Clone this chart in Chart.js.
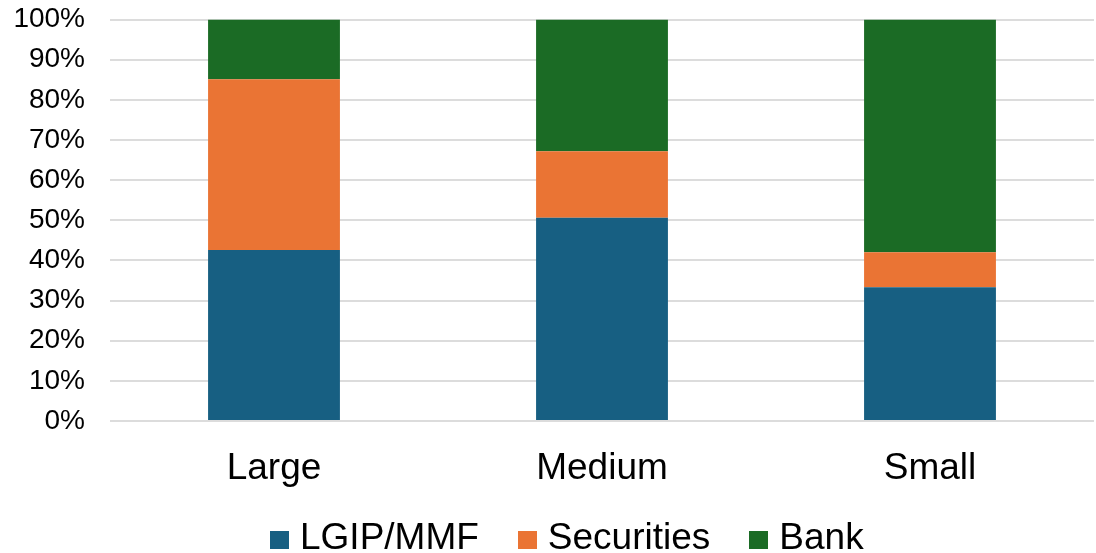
<!DOCTYPE html>
<html>
<head>
<meta charset="utf-8">
<script src="https://cdn.jsdelivr.net/npm/chart.js@4.4.1/dist/chart.umd.min.js"></script>
<style>
  html, body { margin: 0; padding: 0; background: #ffffff; }
  #wrap { position: relative; width: 1096px; height: 553px; }
  #legend {
    position: absolute; left: 270px; top: 518px;
    display: flex; align-items: flex-start;
    font-family: "Liberation Sans", Arial, sans-serif; font-size: 37px; line-height: 37px; color: #000;
  }
  .item { display: flex; align-items: flex-start; margin-right: 39px; white-space: nowrap; }
  .box { width: 19px; height: 18px; margin-top: 13px; margin-right: 11px; }
</style>
</head>
<body>
<div id="wrap">
  <canvas id="chart" width="1096" height="553"></canvas>
  <div id="legend"></div>
</div>
<script>
// Share of holdings by entity size (percent of total)
const categories = ['Large', 'Medium', 'Small'];
const lgipMmf    = [42.6, 50.6, 33.3];
const securities = [42.5, 16.6, 8.7];
const bank       = [14.9, 32.8, 58.0];
const yTicks     = [0, 10, 20, 30, 40, 50, 60, 70, 80, 90, 100];

const seriesNames  = ['LGIP/MMF', 'Securities', 'Bank'];
const seriesColors = ['#175f82', '#ea7434', '#1b6b25'];
const seriesData   = [lgipMmf, securities, bank];

const FONT = '"Liberation Sans", Arial, sans-serif';

const datasets = seriesNames.map((name, i) => ({
  label: name,
  data: seriesData[i],
  backgroundColor: seriesColors[i],
  borderWidth: 0,
  categoryPercentage: 1.0,
  barPercentage: 0.402
}));

new Chart(document.getElementById('chart'), {
  type: 'bar',
  data: { labels: categories, datasets },
  options: {
    responsive: false,
    animation: false,
    layout: { padding: { top: 19.5, right: 2, left: 0, bottom: 0 } },
    plugins: { legend: { display: false }, tooltip: { enabled: false } },
    scales: {
      x: {
        stacked: true,
        grid: { display: false, drawTicks: false },
        border: { display: false },
        ticks: { color: '#000', font: { family: FONT, size: 37 }, padding: 26 },
        afterFit: s => { s.height = 132; }
      },
      y: {
        stacked: true,
        min: 0, max: 100,
        afterBuildTicks: s => { s.ticks = yTicks.map(v => ({ value: v })); },
        // invisible tick marks hold the gap between labels and the plot
        grid: { color: '#dcdcdc', lineWidth: 2, drawTicks: true, tickLength: 25, tickColor: 'rgba(0,0,0,0)' },
        border: { display: false },
        ticks: {
          color: '#000', font: { family: FONT, size: 28 }, padding: 0,
          callback: v => v + '%'
        },
        afterFit: s => { s.width = 110; }
      }
    }
  }
});

// Legend row built from the same series definitions
const legend = document.getElementById('legend');
seriesNames.forEach((name, i) => {
  const item = document.createElement('div');
  item.className = 'item';
  const box = document.createElement('div');
  box.className = 'box';
  box.style.background = seriesColors[i];
  const txt = document.createElement('span');
  txt.textContent = name;
  item.appendChild(box);
  item.appendChild(txt);
  legend.appendChild(item);
});
</script>
</body>
</html>
